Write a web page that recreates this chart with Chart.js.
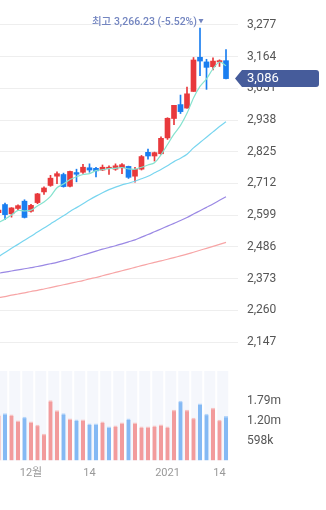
<!DOCTYPE html>
<html>
<head>
<meta charset="utf-8">
<script src="https://cdn.jsdelivr.net/npm/chart.js@4.4.1/dist/chart.umd.min.js"></script>
<style>
html, body { margin: 0; padding: 0; background: #fff; width: 326px; height: 510px; overflow: hidden; }
#priceChart { position: absolute; left: 0; top: 0; }
#volChart { position: absolute; left: 0; top: 351px; }
</style>
</head>
<body>
<canvas id="priceChart" width="326" height="362"></canvas>
<canvas id="volChart" width="326" height="159"></canvas>
<script>
// 일봉 (11/24 ~ 1/15)
const open  = [2608, 2637, 2604, 2623, 2649, 2613, 2644, 2682, 2705, 2738, 2744, 2702, 2751, 2752, 2768, 2766, 2760, 2765, 2763, 2768, 2773, 2738, 2763, 2823, 2810, 2818, 2874.5, 2943.7, 2993.3, 2980.8, 3040.1, 3161.9, 3145.4, 3128.3, 3145.1, 3149.8];
const high  = [2621, 2642, 2626, 2636, 2654, 2638, 2677, 2700, 2741, 2754, 2749, 2756, 2763, 2780, 2782, 2770, 2778, 2775, 2782, 2783, 2774, 2770, 2812, 2835, 2824, 2878, 2946.5, 2990.6, 3027.2, 3055.3, 3161.1, 3266.23, 3154.8, 3159.9, 3152.8, 3189.3];
const low   = [2600, 2583, 2592, 2619, 2589, 2610, 2640, 2673, 2702, 2711, 2699, 2700, 2718, 2748, 2752, 2735, 2758, 2744, 2759, 2747, 2730, 2717, 2760, 2799, 2792, 2816, 2869.1, 2921.8, 2961.4, 2980.8, 3040.1, 3096.2, 3047.6, 3116.6, 3129.2, 3084.9];
const close = [2617, 2601, 2625, 2633, 2591, 2634, 2675, 2696, 2731, 2747, 2701, 2755, 2745, 2770, 2760, 2757, 2770, 2770, 2775, 2779, 2734, 2762, 2808, 2810, 2822, 2873, 2944.5, 2990.6, 2968.2, 3031.7, 3152.2, 3148.5, 3126.0, 3148.3, 3149.9, 3085.9];

// 이동평균선
const ma5   = [2573, 2585, 2600, 2616, 2614, 2617, 2632, 2646, 2666, 2697, 2710, 2726, 2736, 2744, 2747, 2758, 2761, 2765, 2766, 2769, 2764, 2763, 2770, 2778, 2786, 2814, 2851, 2888, 2919, 2962, 3017, 3058, 3085, 3121, 3145, 3132];
const ma20  = [2451, 2466, 2481, 2495, 2510, 2524, 2539, 2553, 2568, 2583, 2597, 2612, 2626, 2640, 2654, 2667, 2679, 2690, 2699, 2707, 2713, 2720, 2729, 2738, 2750, 2762, 2775, 2790, 2802, 2816, 2839, 2858, 2877, 2896, 2915, 2932];
const ma60  = [2392, 2396, 2400, 2404, 2408, 2412, 2416, 2421, 2426, 2431, 2437, 2443, 2450, 2457, 2464, 2471, 2478, 2484, 2490, 2497, 2504, 2511, 2521, 2530, 2540, 2550, 2560, 2570, 2580, 2591, 2603, 2615, 2627, 2639, 2652, 2665];
const ma120 = [2305, 2309, 2314, 2318, 2322, 2327, 2331, 2336, 2341, 2346, 2351, 2356, 2361, 2366, 2372, 2377, 2383, 2389, 2395, 2401, 2407, 2413, 2419, 2425, 2431, 2436, 2442, 2448, 2454, 2460, 2467, 2474, 2481, 2488, 2495, 2502];

// 거래량
const volume = [1381000, 1412000, 1381000, 1199000, 1312000, 1169000, 1069000, 795000, 1806000, 1503000, 1412000, 1260000, 1230000, 1230000, 1108000, 1108000, 1169000, 1017000, 1047000, 1138000, 1260000, 1138000, 1017000, 1017000, 1047000, 1078000, 1017000, 1518000, 1791000, 1524000, 1281000, 1706000, 1403000, 1585000, 1220000, 1330000];
const volUp  = [1, 0, 1, 1, 0, 1, 1, 1, 1, 1, 0, 1, 0, 1, 0, 0, 1, 0, 1, 1, 0, 1, 1, 1, 1, 1, 1, 1, 0, 1, 1, 0, 0, 1, 1, 0];

// 축 눈금
const priceTicks = [2147, 2260, 2373, 2486, 2599, 2712, 2825, 2938, 3051, 3164, 3277];
const volTicks = [598000, 1196000, 1794000];
const xTickIdx = [5, 14, 26, 34];
const xTickText = ['12월', '14', '2021', '14'];

const RED = '#e8393c';
const BLUE = '#1a7ef0';
const FONT = "Roboto, 'Noto Sans CJK KR', sans-serif";
const X_MIN = 0.2308;
const X_MAX = 35.615;

Chart.defaults.font.family = FONT;
Chart.defaults.animation = false;

const idx = open.map((_, i) => i);
const candleColor = idx.map(i => close[i] >= open[i] ? RED : BLUE);

function maLine(values, color) {
    return {
        type: 'line',
        data: idx.map(i => ({ x: i, y: values[i] })),
        borderColor: color,
        borderWidth: 1.2,
        pointRadius: 0,
        tension: 0.3,
        order: 0
    };
}

// 최고가 표시와 현재가 태그
const priceMarks = {
    id: 'priceMarks',
    afterDraw(chart) {
        const { ctx, chartArea: a, scales: { x, y } } = chart;
        const hi = Math.max(...high);
        const hiIdx = high.indexOf(hi);
        const last = close[close.length - 1];
        const hx = x.getPixelForValue(hiIdx);
        const hy = y.getPixelForValue(hi);
        const pct = ((last - hi) / hi * 100).toFixed(2);

        ctx.save();
        ctx.fillStyle = '#7385c0';
        ctx.beginPath();
        ctx.moveTo(hx - 1.5, hy - 9);
        ctx.lineTo(hx + 3.5, hy - 9);
        ctx.lineTo(hx + 1, hy - 4.5);
        ctx.closePath();
        ctx.fill();
        ctx.font = '500 10.5px ' + FONT;
        ctx.textAlign = 'right';
        ctx.textBaseline = 'middle';
        ctx.fillText('최고 ' + hi.toLocaleString('en-US', { minimumFractionDigits: 2 }) + ' (' + pct + '%)', hx - 3, hy - 6);

        const ly = y.getPixelForValue(last);
        const tip = a.right + 5, bl = a.right + 12, br = chart.width - 7;
        ctx.fillStyle = '#465c9b';
        ctx.beginPath();
        ctx.moveTo(tip, ly);
        ctx.lineTo(bl, ly - 8.5);
        ctx.lineTo(br - 3, ly - 8.5);
        ctx.quadraticCurveTo(br, ly - 8.5, br, ly - 5.5);
        ctx.lineTo(br, ly + 5.5);
        ctx.quadraticCurveTo(br, ly + 8.5, br - 3, ly + 8.5);
        ctx.lineTo(bl, ly + 8.5);
        ctx.closePath();
        ctx.fill();
        ctx.fillStyle = '#ffffff';
        ctx.font = '13px ' + FONT;
        ctx.textAlign = 'left';
        ctx.fillText(Math.round(last).toLocaleString('en-US'), a.right + 17, ly + 0.5);
        ctx.restore();
    }
};

// 거래량 배경
const volumeBackground = {
    id: 'volumeBackground',
    beforeDatasetsDraw(chart) {
        const { ctx, chartArea: a, scales: { x } } = chart;
        ctx.save();
        ctx.fillStyle = '#f5f7fc';
        ctx.fillRect(a.left, a.top, a.right - a.left, a.bottom - a.top);
        ctx.strokeStyle = '#ffffff';
        ctx.lineWidth = 2;
        for (let k = 1.5; k < idx.length; k += 2) {
            const px = x.getPixelForValue(k);
            if (px <= a.left || px >= a.right) continue;
            ctx.beginPath();
            ctx.moveTo(px, a.top);
            ctx.lineTo(px, a.bottom);
            ctx.stroke();
        }
        ctx.restore();
    }
};

function gerarGraficoPreco() {
    const ctx = document.getElementById('priceChart').getContext('2d');
    new Chart(ctx, {
        type: 'bar',
        data: {
            datasets: [
                maLine(ma120, '#f7a5a6'),
                maLine(ma60, '#9a88e4'),
                maLine(ma20, '#78d5ef'),
                maLine(ma5, '#86e3cf'),
                {
                    data: idx.map(i => ({ x: i, y: [low[i], high[i]] })),
                    backgroundColor: candleColor,
                    barThickness: 1,
                    grouped: false,
                    order: 2
                },
                {
                    data: idx.map(i => ({ x: i, y: [open[i], close[i]] })),
                    backgroundColor: candleColor,
                    barThickness: 5,
                    grouped: false,
                    order: 1
                }
            ]
        },
        options: {
            responsive: false,
            layout: { padding: { top: 20, bottom: 20, left: 0, right: 0 } },
            plugins: { legend: { display: false }, tooltip: { enabled: false } },
            scales: {
                x: { type: 'linear', min: X_MIN, max: X_MAX, offset: false, display: false },
                y: {
                    position: 'right',
                    min: 2147,
                    max: 3294.8,
                    afterFit(s) { s.width = 96; },
                    afterBuildTicks(s) { s.ticks = priceTicks.map(v => ({ value: v })); },
                    ticks: {
                        padding: 9,
                        color: '#555555',
                        font: { size: 12 },
                        callback: v => v.toLocaleString('en-US')
                    },
                    grid: { color: '#eeeeee', tickLength: 8 },
                    border: { display: false }
                }
            }
        },
        plugins: [priceMarks]
    });
}

function gerarGraficoVolume() {
    const ctx = document.getElementById('volChart').getContext('2d');
    new Chart(ctx, {
        type: 'bar',
        data: {
            datasets: [{
                data: idx.map(i => ({ x: i, y: volume[i] })),
                backgroundColor: volUp.map(u => u ? '#f29b9c' : '#84b9f4'),
                borderColor: volUp.map(u => u ? '#f7c3c3' : '#b6d6fa'),
                borderWidth: { top: 1.5, left: 0, right: 0, bottom: 0 },
                borderSkipped: false,
                barThickness: 4
            }]
        },
        options: {
            responsive: false,
            layout: { padding: { top: 20, bottom: 24.3, left: 0, right: 0 } },
            plugins: { legend: { display: false }, tooltip: { enabled: false } },
            scales: {
                x: {
                    type: 'linear',
                    min: X_MIN,
                    max: X_MAX,
                    offset: false,
                    afterBuildTicks(s) { s.ticks = xTickIdx.map(v => ({ value: v })); },
                    ticks: {
                        autoSkip: false,
                        maxRotation: 0,
                        padding: 6,
                        color: '#999999',
                        font: { size: 11 },
                        callback: v => xTickText[xTickIdx.indexOf(v)]
                    },
                    grid: { display: false, drawTicks: false },
                    border: { display: false }
                },
                y: {
                    position: 'right',
                    min: 0,
                    max: 2700000,
                    afterFit(s) { s.width = 96; },
                    afterBuildTicks(s) { s.ticks = volTicks.map(v => ({ value: v })); },
                    ticks: {
                        padding: 9,
                        color: '#555555',
                        font: { size: 12 },
                        callback: v => v < 1000000 ? Math.round(v / 1000) + 'k' : (v / 1000000).toFixed(2) + 'm'
                    },
                    grid: { color: 'rgba(0,0,0,0)', tickLength: 8 },
                    border: { display: false }
                }
            }
        },
        plugins: [volumeBackground]
    });
}

gerarGraficoPreco();
gerarGraficoVolume();
</script>
</body>
</html>
